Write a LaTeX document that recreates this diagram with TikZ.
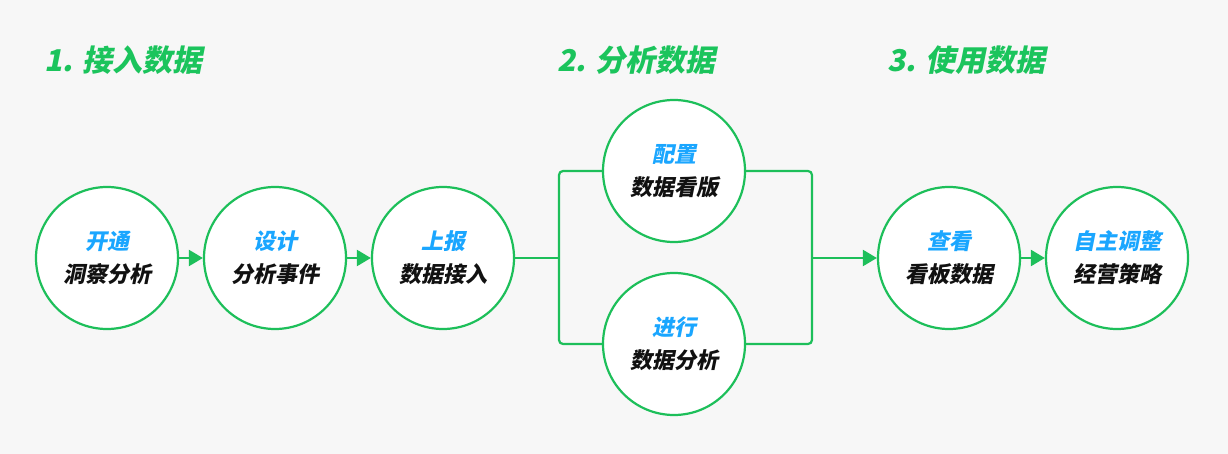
\documentclass[tikz,border=0pt]{standalone}
\usepackage{fontspec}
\usetikzlibrary{arrows.meta}
\newfontfamily\cjk[FakeSlant=0.2]{Noto Sans CJK SC}
\definecolor{bgc}{HTML}{F7F7F7}
\definecolor{grn}{HTML}{1DBF5A}
\definecolor{ttl}{HTML}{1BC45C}
\definecolor{blu}{HTML}{1AA6FF}
\definecolor{txt}{HTML}{111111}
\tikzset{
  circ/.style={circle, draw=grn, line width=2.2pt, fill=white, minimum size=142pt, inner sep=0pt,
    align=center, font=\cjk\bfseries\fontsize{22}{33}\selectfont, text=txt},
  conn/.style={draw=grn, line width=2.2pt},
  arr/.style={conn, -{Triangle[length=14pt,width=16pt]}},
  ttlstyle/.style={anchor=west, text=ttl, font=\cjk\bfseries\fontsize{30}{30}\selectfont, inner sep=0pt}
}
\newcommand{\bl}[1]{\textcolor{blu}{#1}}
\begin{document}
\begin{tikzpicture}[x=1pt,y=-1pt]
\fill[bgc] (0,0) rectangle (1228,454);
\useasboundingbox (0,0) rectangle (1228,454);
\node[ttlstyle] (t1) at (44,60) {1. 接入数据};
\node[ttlstyle] (t2) at (557,60) {2. 分析数据};
\node[ttlstyle] (t3) at (887,60) {3. 使用数据};
\coordinate (jl) at (559,258);
\coordinate (jr) at (812,258);
\node[circ] (c1) at (107,258) {\bl{开通}\\洞察分析};
\node[circ] (c2) at (275,258) {\bl{设计}\\分析事件};
\node[circ] (c3) at (443,258) {\bl{上报}\\数据接入};
\node[circ] (ct) at (674,171) {\bl{配置}\\数据看版};
\node[circ] (cb) at (674,344) {\bl{进行}\\数据分析};
\node[circ] (c5) at (949,258) {\bl{查看}\\看板数据};
\node[circ] (c6) at (1117,258) {\bl{自主调整}\\经营策略};
\draw[arr] (c1) -- (c2);
\draw[arr] (c2) -- (c3);
\draw[conn] (c3.east) -- (jl);
\draw[conn, rounded corners=4pt] (ct.west) -| (jl) |- (cb.west);
\draw[conn, rounded corners=4pt] (ct.east) -| (jr) |- (cb.east);
\draw[arr] (jr) -- (c5.west);
\draw[arr] (c5) -- (c6);
\end{tikzpicture}
\end{document}
